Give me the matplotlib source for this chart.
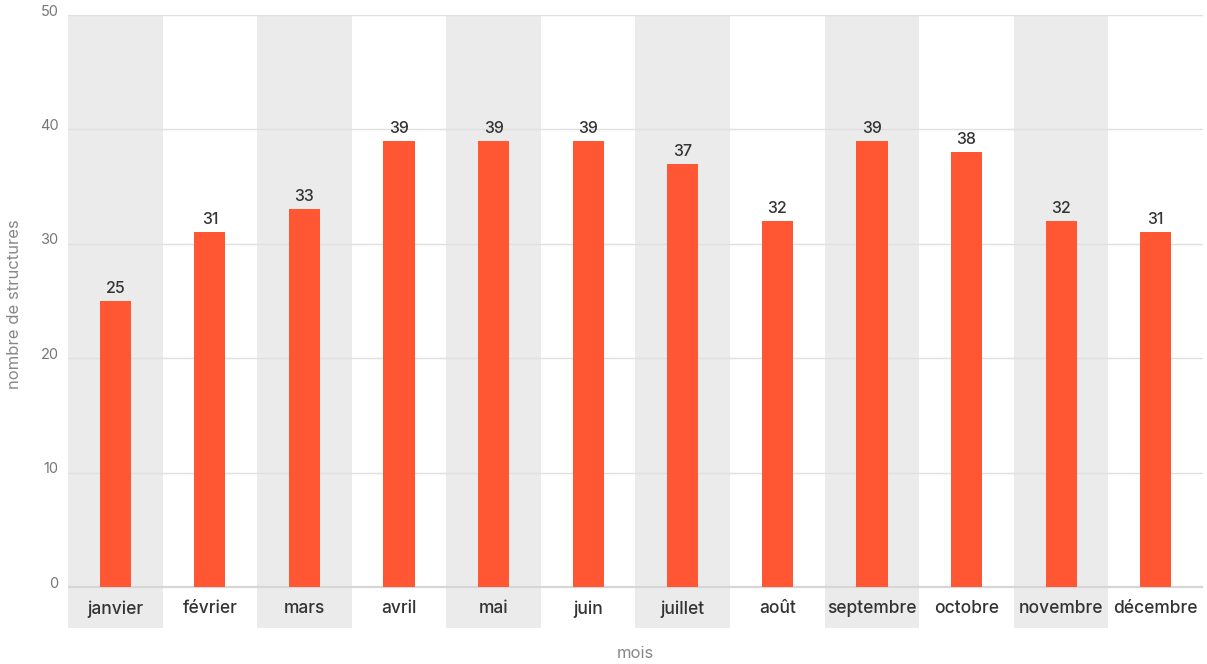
import numpy as np
import matplotlib
matplotlib.use("Agg")
from matplotlib import pyplot as plt

# Monthly counts of structures
mois = ["janvier", "février", "mars", "avril", "mai", "juin", "juillet",
        "août", "septembre", "octobre", "novembre", "décembre"]
structures = [25, 31, 33, 39, 39, 39, 37, 32, 39, 38, 32, 31]
yticks = [0, 10, 20, 30, 40, 50]

plt.rcParams["font.family"] = ["Inter", "DejaVu Sans"]

W, H = 1207, 664
fig = plt.figure(figsize=(W / 100, H / 100), dpi=100)
# axes spans from the band bottom (y=628px) to the top gridline (y=15px)
ax = fig.add_axes([68 / W, (H - 628) / H, (1203 - 68) / W, (628 - 15) / H])

ybottom = -41 / 11.44  # band area below zero
ax.set_xlim(-0.5, len(mois) - 0.5)
ax.set_ylim(ybottom, 50)

x = np.arange(len(mois))

# alternating grey column bands
for i in x[::2]:
    ax.axvspan(i - 0.5, i + 0.5, color="#ebebeb", zorder=0, lw=0)

# horizontal gridlines
for t in yticks:
    ax.axhline(t, color="#d6d6d6" if t == 0 else "#e0e0e0",
               lw=1.6 if t == 0 else 1, zorder=1)

ax.bar(x, structures, width=0.33, color="#ff5733", zorder=2)

for xi, v in zip(x, structures):
    ax.text(xi, v + 0.45, str(v), ha="center", va="bottom",
            fontsize=11.5, fontweight="medium", color="#333333", zorder=3)

for xi, m in zip(x, mois):
    ax.text(xi, ybottom / 2 - 0.12, m, ha="center", va="center",
            fontsize=12.5, fontweight="medium", color="#333333", zorder=3)

for t in yticks:
    ax.text(-0.6, t + 0.3, str(t), ha="right", va="center", fontsize=10.5,
            color="#777777", transform=ax.transData, clip_on=False)

ax.set_xticks([])
ax.set_yticks([])
for s in ax.spines.values():
    s.set_visible(False)

fig.text(15 / W, 1 - 304 / H, "nombre de structures", rotation=90,
         ha="center", va="center", fontsize=12, color="#888888")
fig.text((68 + 1203) / 2 / W, 1 - 654 / H, "mois", ha="center",
         va="center", fontsize=12, color="#888888")

fig.savefig("out.png", dpi=100)
